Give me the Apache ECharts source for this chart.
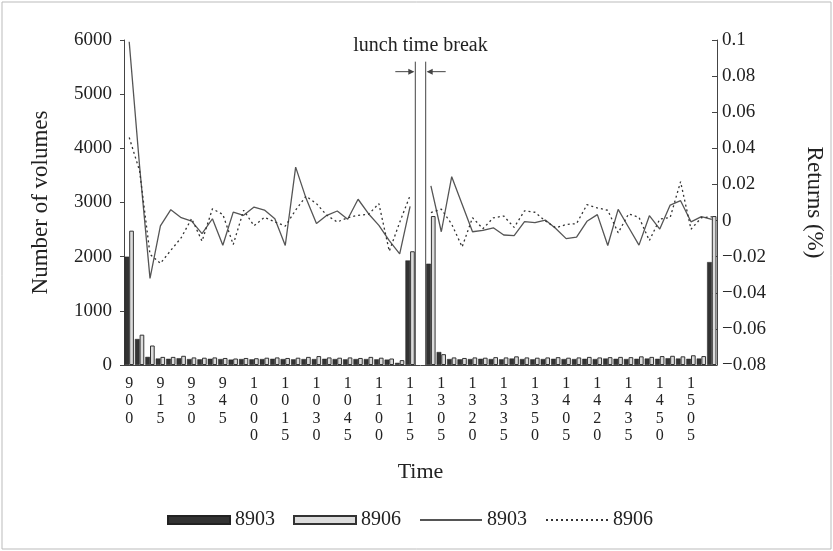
<!DOCTYPE html>
<html>
<head>
<meta charset="utf-8">
<title>Volumes and returns</title>
<script src="https://cdn.jsdelivr.net/npm/echarts@6/dist/echarts.min.js"></script>
<style>
  html, body { margin: 0; padding: 0; background: #fff; }
  #main { width: 833px; height: 551px; }
</style>
</head>
<body>
<div id="main"></div>
<script>
// time slots, 5 minutes each; the lunch time break sits between the sessions
const morningTimes = ['900', '905', '910', '915', '920', '925', '930', '935', '940', '945',
  '950', '955', '1000', '1005', '1010', '1015', '1020', '1025', '1030', '1035',
  '1040', '1045', '1050', '1055', '1100', '1105', '1110', '1115'];
const afternoonTimes = ['1300', '1305', '1310', '1315', '1320', '1325', '1330', '1335', '1340', '1345',
  '1350', '1355', '1400', '1405', '1410', '1415', '1420', '1425', '1430', '1435',
  '1440', '1445', '1450', '1455', '1500', '1505', '1510', '1515'];

// number of volumes
const volume8903Am = [2000, 480, 150, 120, 115, 125, 110, 105, 115, 110, 100, 110, 105, 110,
  115, 110, 105, 110, 110, 115, 110, 105, 110, 110, 105, 100, 40, 1930];
const volume8903Pm = [1870, 240, 110, 105, 110, 115, 110, 105, 120, 110, 105, 110, 115, 110,
  110, 115, 110, 120, 115, 110, 115, 120, 115, 125, 120, 115, 120, 1900];
const volume8906Am = [2480, 560, 360, 150, 150, 170, 140, 135, 140, 130, 120, 130, 125, 135,
  140, 130, 135, 150, 165, 140, 135, 140, 130, 150, 135, 120, 90, 2100];
const volume8906Pm = [2750, 200, 140, 130, 140, 135, 145, 140, 160, 140, 135, 140, 145, 135,
  140, 150, 140, 145, 150, 145, 160, 150, 165, 170, 160, 180, 165, 2750];

// returns (%)
const return8903Am = [0.099, 0.03, -0.032, -0.003, 0.006, 0.0016, -0.0003, -0.0072, 0.001, -0.0137,
  0.0047, 0.0029, 0.0075, 0.0058, 0.001, -0.0138, 0.0296, 0.0123, -0.0016, 0.0029,
  0.0053, 0.0007, 0.0118, 0.0038, -0.0027, -0.0111, -0.0185, 0.0078];
const return8903Pm = [0.0192, -0.0062, 0.0243, 0.009, -0.0062, -0.0054, -0.004, -0.008, -0.0083, -0.0006,
  -0.0012, 0.0003, -0.0044, -0.01, -0.0092, -0.0004, 0.0033, -0.0138, 0.0062, -0.0037,
  -0.0136, 0.0027, -0.0047, 0.0086, 0.011, -0.0007, 0.0022, 0.0006];
const return8906Am = [0.046, 0.0275, -0.0187, -0.0237, -0.0165, -0.0095, 0.0011, -0.0114, 0.0065, 0.0034,
  -0.0133, 0.0057, -0.0029, 0.0018, -0.0007, -0.0031, 0.0058, 0.0135, 0.0094, 0.0029,
  -0.0008, 0.0016, 0.0029, 0.0034, 0.0094, -0.017, -0.001, 0.0139];
const return8906Pm = [0.0044, 0.0063, -0.002, -0.0146, 0.0016, -0.0045, 0.0015, 0.0025, -0.0038, 0.0054,
  0.0046, -0.0002, -0.004, -0.0022, -0.0017, 0.0088, 0.007, 0.0057, -0.0068, 0.0037,
  0.0018, -0.0111, 0.0008, 0.0017, 0.0215, -0.0048, 0.0016, 0.0021];

const serif = 'Liberation Serif';

// join the two sessions with an empty lunch break slot
function withBreak(am, pm) {
  return am.concat([null], pm);
}

const categories = withBreak(morningTimes, afternoonTimes).map(t => t === null ? '' : t);

const chart = echarts.init(document.getElementById('main'), null, { renderer: 'canvas' });

const option = {
  backgroundColor: '#fff',
  animation: false,
  textStyle: { fontFamily: serif, color: '#222' },
  grid: { left: 124, right: 116, top: 40, bottom: 186, outerBoundsMode: 'none', containLabel: false },
  legend: {
    left: 162,
    bottom: 16,
    itemWidth: 62,
    itemHeight: 8,
    itemGap: 18,
    textStyle: { fontFamily: serif, fontSize: 20, color: '#222' },
    data: [
      { name: '8903 ', icon: 'rect' },
      { name: '8906 ', icon: 'rect' },
      { name: '8903', itemStyle: { opacity: 0 } },
      { name: '8906', itemStyle: { opacity: 0 } }
    ],
    formatter: name => name.trim()
  },
  xAxis: {
    type: 'category',
    data: categories,
    name: 'Time',
    nameLocation: 'middle',
    nameGap: 96,
    nameTextStyle: { fontFamily: serif, fontSize: 22, color: '#222' },
    axisLine: { lineStyle: { color: '#444', width: 1 } },
    axisTick: { show: false },
    axisLabel: {
      interval: 2,
      margin: 10,
      fontFamily: serif,
      fontSize: 16,
      lineHeight: 17.5,
      color: '#222',
      formatter: v => v.split('').join('\n')
    }
  },
  yAxis: [
    {
      type: 'value',
      min: 0,
      max: 6000,
      interval: 1000,
      name: 'Number of volumes',
      nameLocation: 'middle',
      nameGap: 72,
      nameTextStyle: { fontFamily: serif, fontSize: 23, color: '#222' },
      axisLine: { show: true, lineStyle: { color: '#444' } },
      axisTick: { show: true, length: 4, lineStyle: { color: '#444' } },
      axisLabel: { fontFamily: serif, fontSize: 19, color: '#222', margin: 12, formatter: v => String(v) },
      splitLine: { show: false }
    },
    {
      type: 'value',
      min: -0.08,
      max: 0.1,
      interval: 0.02,
      name: 'Returns (%)',
      nameLocation: 'middle',
      nameRotate: -90,
      nameGap: 86,
      nameTextStyle: { fontFamily: serif, fontSize: 23, color: '#222' },
      axisLine: { show: true, lineStyle: { color: '#444' } },
      axisTick: { show: true, inside: true, length: 5, lineStyle: { color: '#444' } },
      axisLabel: {
        fontFamily: serif,
        fontSize: 19,
        color: '#222',
        margin: 5,
        formatter: v => String(Math.round(v * 100) / 100).replace('-', '\u2212')
      },
      splitLine: { show: false }
    }
  ],
  series: [
    {
      name: '8903 ',
      type: 'bar',
      yAxisIndex: 0,
      data: withBreak(volume8903Am, volume8903Pm),
      barGap: '0%',
      barCategoryGap: '10%',
      itemStyle: { color: '#333', borderColor: '#222', borderWidth: 0.5 }
    },
    {
      name: '8906 ',
      type: 'bar',
      yAxisIndex: 0,
      data: withBreak(volume8906Am, volume8906Pm),
      itemStyle: { color: '#dcdcdc', borderColor: '#333', borderWidth: 1 }
    },
    {
      name: '8903',
      type: 'line',
      yAxisIndex: 1,
      data: withBreak(return8903Am, return8903Pm),
      symbol: 'none',
      connectNulls: false,
      lineStyle: { color: '#555', width: 1.3, type: 'solid' },
      itemStyle: { color: '#555' }
    },
    {
      name: '8906',
      type: 'line',
      yAxisIndex: 1,
      data: withBreak(return8906Am, return8906Pm),
      symbol: 'none',
      connectNulls: false,
      lineStyle: { color: '#333', width: 1.3, type: [2, 3] },
      itemStyle: { color: '#333' }
    }
  ]
};

chart.setOption(option);

/**
 * Draw the lunch time break marker between the two sessions
 */
function drawLunchBreak() {
  const lastAm = morningTimes.length - 1;
  const firstPm = lastAm + 2;
  const xA = chart.convertToPixel({ xAxisIndex: 0 }, lastAm);
  const xB = chart.convertToPixel({ xAxisIndex: 0 }, firstPm);
  const half = (xB - xA) / 4;
  const leftX = xA + half;
  const rightX = xB - half;
  const baseY = chart.convertToPixel({ yAxisIndex: 0 }, 0);
  const topY = chart.convertToPixel({ yAxisIndex: 0 }, 5600);
  const arrowY = topY + 10;
  const stroke = { stroke: '#444', lineWidth: 1 };

  chart.setOption({
    graphic: [
      { type: 'rect', shape: { x: 2, y: 2, width: 829, height: 547 }, style: { fill: 'none', stroke: '#bbb', lineWidth: 1 } },
      { type: 'line', shape: { x1: leftX, y1: topY, x2: leftX, y2: baseY }, style: stroke },
      { type: 'line', shape: { x1: rightX, y1: topY, x2: rightX, y2: baseY }, style: stroke },
      { type: 'line', shape: { x1: leftX - 20, y1: arrowY, x2: leftX - 2, y2: arrowY }, style: stroke },
      { type: 'polygon', shape: { points: [[leftX - 1, arrowY], [leftX - 7, arrowY - 3], [leftX - 7, arrowY + 3]] }, style: { fill: '#444' } },
      { type: 'line', shape: { x1: rightX + 2, y1: arrowY, x2: rightX + 20, y2: arrowY }, style: stroke },
      { type: 'polygon', shape: { points: [[rightX + 1, arrowY], [rightX + 7, arrowY - 3], [rightX + 7, arrowY + 3]] }, style: { fill: '#444' } },
      {
        type: 'text',
        x: (leftX + rightX) / 2,
        y: topY - 26,
        style: {
          text: 'lunch time break',
          font: '20px "' + serif + '"',
          fill: '#222',
          align: 'center',
          verticalAlign: 'top'
        }
      }
    ]
  });
}

drawLunchBreak();
</script>
</body>
</html>
